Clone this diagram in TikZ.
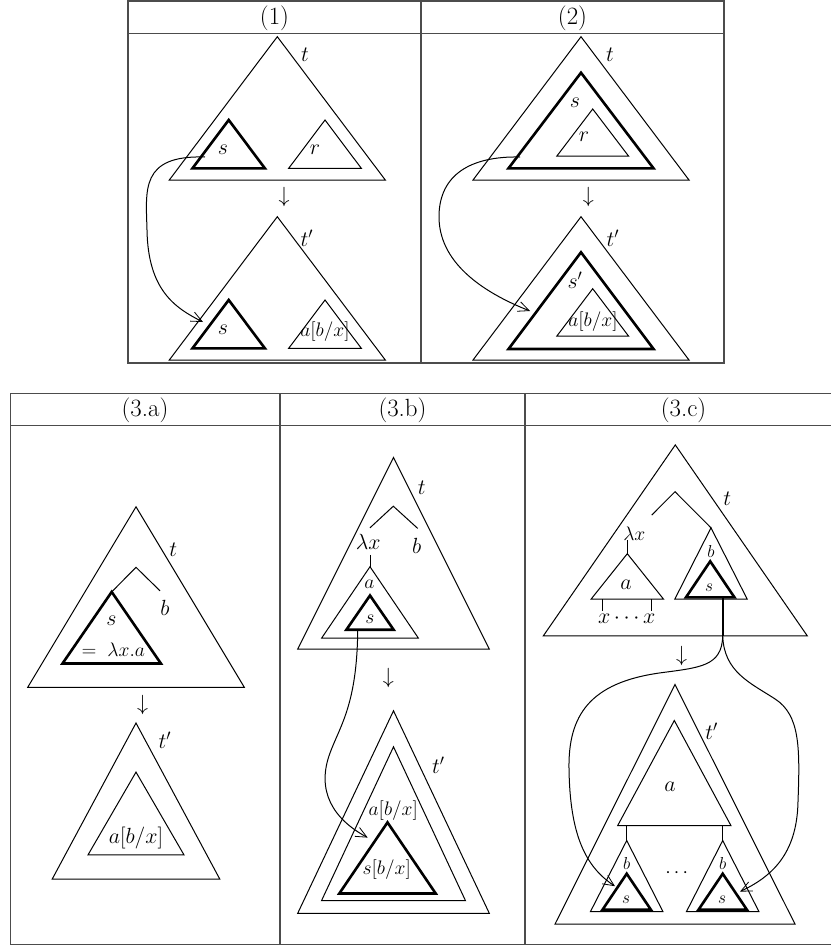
\documentclass[tikz,border=0pt]{standalone}
\usetikzlibrary{arrows.meta}
\newcommand{\trian}[5][]{\draw[#1] (#2,#3) -- ({#2-#4},#5) -- ({#2+#4},#5) -- cycle;}
\begin{document}
\begin{tikzpicture}[x=1pt,y=-1pt,
  thintri/.style={line width=1pt, line join=miter},
  thicktri/.style={line width=2.6pt, line join=miter},
  tbl/.style={line width=1.4pt, draw=black!70},
  lbl/.style={inner sep=0pt, font=\LARGE, scale=1.27, transform shape},
  sml/.style={inner sep=0pt, font=\Large, scale=1.36, transform shape},
  tny/.style={inner sep=0pt, font=\Large, scale=1.2, transform shape},
  hdr/.style={inner sep=0pt, font=\huge, scale=1.2, transform shape},
  conn/.style={line width=1pt, -{Straight Barb[length=11pt,width=10pt,line width=0.8pt]}},
  edge/.style={line width=1pt}
]
\useasboundingbox (0,0) rectangle (830,945);
% ---------- top table ----------
\draw[tbl] (128,1) rectangle (724,363);
\draw[tbl] (128,33.7) -- (724,33.7);
\draw[tbl] (421,1) -- (421,363);
\node[hdr] (h1) at (274.5,18) {(1)};
\node[hdr] (h2) at (572.5,18) {(2)};
% ---------- bottom table ----------
\draw[tbl] (10.5,393.3) -- (845,393.3);
\draw[tbl] (10.5,425.7) -- (845,425.7);
\draw[tbl] (10.5,393.3) -- (10.5,944.5) -- (845,944.5);
\draw[tbl] (280,393.3) -- (280,944.5);
\draw[tbl] (525,393.3) -- (525,944.5);
\node[hdr] (h3a) at (145,410) {(3.a)};
\node[hdr] (h3b) at (402.5,410) {(3.b)};
\node[hdr] (h3c) at (683.5,410) {(3.c)};

% ================= Panel (1) =================
\trian[thintri]{277.3}{36.7}{108}{180}
\trian[thicktri]{228.7}{120}{36.2}{168.3}
\trian[thintri]{325}{120}{36.3}{168.3}
\node[lbl] (p1t) at (305,55) {$t$};
\node[lbl] (p1s) at (223,150) {$s$};
\node[lbl] (p1r) at (315,150) {$r$};
\node[lbl] (p1d) at (284,197) {$\downarrow$};
\trian[thintri]{277.3}{216.7}{108}{360}
\trian[thicktri]{228.7}{300}{36.2}{348.3}
\trian[thintri]{325}{300}{36.3}{348.3}
\node[lbl] (p1tp) at (307,238) {$t'$};
\node[lbl] (p1s2) at (223,330) {$s$};
\node[sml] (p1a) at (325,332) {$a[b/x]$};
\coordinate (c1s) at (205,157);
\coordinate (c1e) at (203,322);
\draw[conn] (c1s) .. controls (140,155) and (146,190) .. (147,230) .. controls (148,290) and (175,308) .. (c1e);

% ================= Panel (2) =================
\trian[thintri]{581}{36.7}{108}{180}
\trian[thicktri]{581}{72.7}{72.5}{168.3}
\trian[thintri]{592.7}{109}{35.8}{156}
\node[lbl] (p2t) at (610,55) {$t$};
\node[lbl] (p2s) at (575,103) {$s$};
\node[lbl] (p2r) at (584,137) {$r$};
\node[lbl] (p2d) at (588.3,197) {$\downarrow$};
\trian[thintri]{581}{216.7}{108}{360}
\trian[thicktri]{581}{252.3}{72.5}{349}
\trian[thintri]{592.7}{288.7}{35.8}{336}
\node[lbl] (p2tp) at (613,238) {$t'$};
\node[lbl] (p2sp) at (575,280) {$s'$};
\node[sml] (p2a) at (593,322) {$a[b/x]$};
\coordinate (c2s) at (520,157);
\coordinate (c2e) at (530,311);
\draw[conn] (c2s) .. controls (470,156) and (440,175) .. (439,215) .. controls (438,262) and (482,292) .. (c2e);

% ================= Panel (3.a) =================
\trian[thintri]{136}{506.8}{108.3}{687.3}
\node[lbl] (qat) at (173.3,549.4) {$t$};
\coordinate (qaL) at (111.7,591.9);
\coordinate (qaM) at (136,567.3);
\coordinate (qaR) at (160,590.8);
\draw[edge] (qaL) -- (qaM) -- (qaR);
\node[lbl] (qab) at (165,608) {$b$};
\trian[thicktri]{111.7}{591.9}{49.2}{663.5}
\node[lbl] (qas) at (111.5,621) {$s$};
\node[sml] (qal) at (113.3,650) {$=\;\lambda x.a$};
\node[lbl] (qad) at (142.7,705.4) {$\downarrow$};
\trian[thintri]{136}{723}{83.8}{879.1}
\node[lbl] (qatp) at (165,740.3) {$t'$};
\trian[thintri]{136}{772.1}{48}{854.9}
\node[lbl] (qaa) at (136,837.6) {$a[b/x]$};

% ================= Panel (3.b) =================
\trian[thintri]{393.5}{457.5}{95.8}{649.2}
\node[lbl] (qbt) at (421.7,488.1) {$t$};
\coordinate (qbL) at (370,527.8);
\coordinate (qbM) at (393.3,506.2);
\coordinate (qbR) at (417.7,528.4);
\draw[edge] (qbL) -- (qbM) -- (qbR);
\node[lbl] (qblam) at (368.3,542.2) {$\lambda x$};
\node[lbl] (qbb) at (416.7,545.7) {$b$};
\coordinate (qbst) at (370,554.8);
\coordinate (qbsb) at (370,566.7);
\draw[edge] (qbst) -- (qbsb);
\trian[thintri]{370}{566.7}{48.3}{638}
\node[sml] (qba) at (369.3,584.3) {$a$};
\trian[thicktri]{370}{595.5}{23.6}{629.7}
\node[sml] (qbs) at (370,618.9) {$s$};
\node[lbl] (qbd) at (388.3,678.4) {$\downarrow$};
\trian[thintri]{393.5}{710.8}{95.8}{913.3}
\node[lbl] (qbtp) at (438.3,765.6) {$t'$};
\trian[thintri]{393.5}{746.8}{72}{900.7}
\node[sml] (qbab) at (393.3,810.6) {$a[b/x]$};
\trian[thicktri]{387.5}{822.4}{48.2}{893.5}
\node[sml] (qbsb2) at (386.7,870) {$s[b/x]$};
\coordinate (c3s) at (357.7,630.8);
\coordinate (c3e) at (367.7,837.6);
\draw[conn] (c3s) .. controls (357,704.3) and (340,725.9) .. (330,753) .. controls (316,790.8) and (333,818.9) .. (c3e);

% ================= Panel (3.c) =================
\trian[thintri]{675.3}{444.9}{132}{635.9}
\node[lbl] (qct) at (727.3,498.9) {$t$};
\coordinate (qcL) at (651.7,515.1);
\coordinate (qcM) at (675,491.7);
\coordinate (qcR) at (711,527.8);
\draw[edge] (qcL) -- (qcM) -- (qcR);
\node[sml] (qclam) at (634.3,533.2) {$\lambda x$};
\coordinate (qcst) at (627.3,540.3);
\coordinate (qcsb) at (627.3,553.7);
\draw[edge] (qcst) -- (qcsb);
\trian[thintri]{627.3}{553.7}{36.2}{599.1}
\node[lbl] (qca) at (626,584.3) {$a$};
\coordinate (qcl1t) at (602.7,599.1);
\coordinate (qcl1b) at (602.7,610.6);
\coordinate (qcl2t) at (651,599.1);
\coordinate (qcl2b) at (651,610.6);
\draw[edge] (qcl1t) -- (qcl1b);
\draw[edge] (qcl2t) -- (qcl2b);
\node[lbl] (qcx) at (626.7,619) {$x\cdots x$};
\trian[thintri]{711}{527.8}{36.2}{599.1}
\node[tny] (qcb) at (711,551.1) {$b$};
\trian[thicktri]{710.2}{561.3}{24.2}{597.3}
\node[tny] (qcs) at (709,587.9) {$s$};
\coordinate (qcss) at (722.7,597.3);
\coordinate (qcse) at (722.7,635.9);
\draw[line width=1.8pt] (qcss) -- (qcse);
\node[lbl] (qcd) at (681.7,655.7) {$\downarrow$};
\trian[thintri]{675}{684.5}{120}{924.1}
\node[lbl] (qctp) at (711.7,731.3) {$t'$};
\trian[thintri]{674.3}{720.5}{56.7}{825.7}
\node[lbl] (qca2) at (670,787.2) {$a$};
\coordinate (qcm1t) at (626.7,825.7);
\coordinate (qcm1b) at (626.7,840.5);
\coordinate (qcm2t) at (722.7,825.7);
\coordinate (qcm2b) at (722.7,840.5);
\draw[edge] (qcm1t) -- (qcm1b);
\draw[edge] (qcm2t) -- (qcm2b);
\trian[thintri]{626.7}{840.5}{36.2}{911.5}
\trian[thicktri]{626.7}{873.7}{24.2}{909.7}
\node[tny] (qcbl) at (626.7,863.1) {$b$};
\node[tny] (qcsl) at (626,899.6) {$s$};
\trian[thintri]{722.7}{840.5}{36.2}{911.5}
\trian[thicktri]{722.7}{873.7}{24.2}{909.7}
\node[tny] (qcbr) at (722.7,863.1) {$b$};
\node[tny] (qcsr) at (722,899.6) {$s$};
\node[sml] (qcdots) at (676.7,872.9) {$\cdots$};
\coordinate (c4l) at (615,886.2);
\coordinate (c4r) at (740,891.6);
\draw[conn] (qcse) .. controls (722,666.5) and (700,667.5) .. (660,672.9) .. controls (590,682.7) and (568,715.1) .. (569,769.2) .. controls (570,834) and (585,866.5) .. (c4l);
\draw[conn] (qcse) .. controls (724,671.9) and (750,682.7) .. (775,698.9) .. controls (800,715.1) and (800,747.5) .. (798,801.6) .. controls (797,855.6) and (770,877.3) .. (c4r);
\end{tikzpicture}
\end{document}
